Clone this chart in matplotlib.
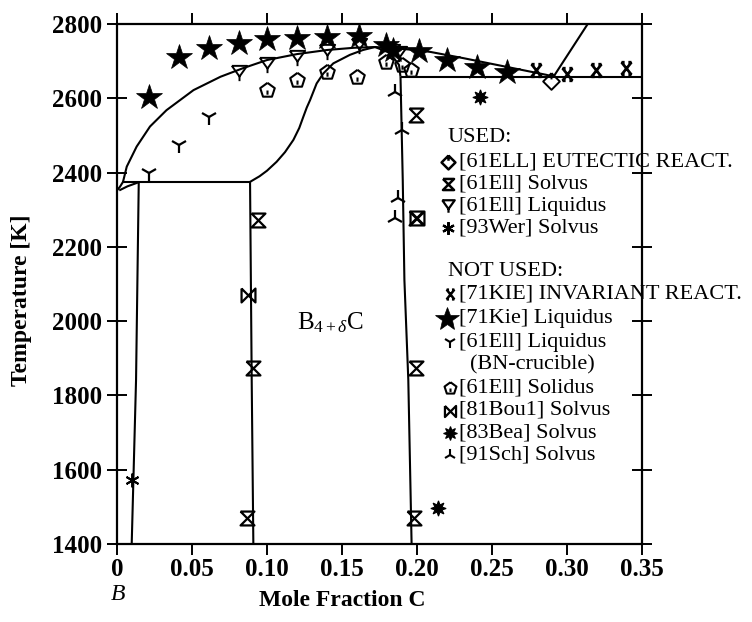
import matplotlib
matplotlib.use("Agg")
import matplotlib.pyplot as plt
import numpy as np
from matplotlib.path import Path

# ---------------- data ----------------
# phase boundaries (mole fraction C, temperature K)
liq_x = [0.000, 0.002, 0.004, 0.0065, 0.0131, 0.022, 0.033, 0.051, 0.069, 0.084, 0.100,
         0.120, 0.140, 0.158, 0.172, 0.185, 0.198, 0.2087, 0.231, 0.2531, 0.2753, 0.2864, 0.291]
liq_T = [2352, 2362, 2375, 2416, 2470, 2524, 2568, 2622, 2658, 2681, 2703,
         2719, 2730, 2736, 2738, 2735, 2730, 2725, 2708, 2690, 2672, 2663, 2658]
gr_liq_x = [0.291, 0.3138]
gr_liq_T = [2658, 2800]
sol_b4c_x = [0.0887, 0.095, 0.100, 0.1064, 0.112, 0.1176, 0.1215, 0.1242, 0.1265, 0.1287,
             0.1331, 0.1376, 0.1442, 0.1553, 0.164, 0.172, 0.182, 0.188, 0.189]
sol_b4c_T = [2375, 2390, 2405, 2429, 2455, 2488, 2520, 2550, 2575, 2595,
             2640, 2667, 2694, 2717, 2730, 2738, 2722, 2690, 2658]
solv_c_x = [0.189, 0.1905, 0.1916, 0.1942, 0.1964]
solv_c_T = [2658, 2380, 2111, 1842, 1400]
solv_b4c_x = [0.0887, 0.0898, 0.0909]
solv_b4c_T = [2375, 1842, 1400]
solv_b_x = [0.0145, 0.0127, 0.0098]
solv_b_T = [2374, 1842, 1400]
sol_b_x = [0.0015, 0.007, 0.0145]
sol_b_T = [2352, 2363, 2374]
peri_x = [0.003, 0.0887]
peri_T = [2375, 2375]
eut_x = [0.189, 0.35]
eut_T = [2658, 2658]

# experimental points
ell_eut_x = [0.289]
ell_eut_T = [2647]
ell_solv_x = [0.094, 0.0905, 0.0865, 0.199, 0.199, 0.199, 0.198]
ell_solv_T = [2272, 1873, 1469, 2555, 2277, 1873, 1469]
ell_liq_x = [0.081, 0.100, 0.120, 0.140, 0.161, 0.183, 0.188]
ell_liq_T = [2667, 2690, 2708, 2725, 2740, 2725, 2718]
wer_x = [0.0098]
wer_T = [1572]
kie_inv_x = [0.279, 0.300, 0.319, 0.339]
kie_inv_T = [2676, 2665, 2676, 2681]
kie_liq_x = [0.021, 0.041, 0.061, 0.081, 0.100, 0.120, 0.140, 0.161, 0.179, 0.184,
             0.201, 0.220, 0.240, 0.260]
kie_liq_T = [2604, 2712, 2735, 2748, 2759, 2761, 2766, 2768, 2743, 2730,
             2728, 2703, 2685, 2672]
ell_bn_x = [0.021, 0.041, 0.061]
ell_bn_T = [2398, 2474, 2550]
ell_sol_x = [0.100, 0.120, 0.140, 0.160, 0.179, 0.190, 0.196]
ell_sol_T = [2622, 2649, 2672, 2658, 2699, 2690, 2676]
bou_x = [0.0875, 0.200]
bou_T = [2070, 2277]
bea_x = [0.242, 0.2142]
bea_T = [2604, 1496]
sch_x = [0.185, 0.190, 0.1876, 0.1853]
sch_T = [2618, 2515, 2331, 2277]

xticks = [0, 0.05, 0.10, 0.15, 0.20, 0.25, 0.30, 0.35]
xticklabels = ["0", "0.05", "0.10", "0.15", "0.20", "0.25", "0.30", "0.35"]
yticks = [1400, 1600, 1800, 2000, 2200, 2400, 2600, 2800]

# ---------------- custom markers ----------------
M, L = Path.MOVETO, Path.LINETO
hourglass = Path([(-1, 1), (1, 1), (-1, -1), (1, -1), (-1, 1)], [M, L, L, L, L])
bowtie = Path([(-1, 1), (-1, -1), (1, 1), (1, -1), (-1, 1)], [M, L, L, L, L])
diamond_t = Path([(0, 1), (1, 0), (0, -1), (-1, 0), (0, 1), (0, 1), (0, 0.25)],
                 [M, L, L, L, L, M, L])
tri_stem = Path([(-1, 1), (1, 1), (0, -0.4), (-1, 1), (0, -0.4), (0, -1)],
                [M, L, L, L, M, L])
inv_mk = Path([(-0.8, 1), (0.8, -1), (0.8, 1), (-0.8, -1),
               (-0.8, 1), (-0.3, 1), (0.3, 1), (0.8, 1),
               (-0.8, -1), (-0.3, -1), (0.3, -1), (0.8, -1)],
              [M, L, M, L, M, L, M, L, M, L, M, L])
ang = np.pi / 2 + np.arange(6) * 2 * np.pi / 5
pv = [(np.cos(a), np.sin(a)) for a in ang]
pent = Path(pv + [(0, -0.55), (0, 0.0)], [M, L, L, L, L, L, M, L])

# ---------------- figure ----------------
plt.rcParams['font.family'] = ['Liberation Serif', 'DejaVu Serif']
plt.rcParams['mathtext.fontset'] = 'custom'
plt.rcParams['mathtext.rm'] = 'Liberation Serif'
plt.rcParams['mathtext.it'] = 'Liberation Serif:italic'
fig = plt.figure(figsize=(7.52, 6.22), dpi=100)
ax = fig.add_axes([117 / 752, 1 - 544 / 622, 525 / 752, 520 / 622])

lw = 1.5
for xs, ts in [(liq_x, liq_T), (gr_liq_x, gr_liq_T), (sol_b4c_x, sol_b4c_T),
               (solv_c_x, solv_c_T), (solv_b4c_x, solv_b4c_T), (solv_b_x, solv_b_T),
               (sol_b_x, sol_b_T), (peri_x, peri_T), (eut_x, eut_T)]:
    ax.plot(xs, ts, color='black', lw=lw, solid_capstyle='butt', zorder=2)

def pts(xs, ts, marker, ms, filled=False, mew=1.4):
    ax.plot(xs, ts, linestyle='none', marker=marker, ms=ms, mew=mew,
            mec='black', mfc='black' if filled else 'none', zorder=3, clip_on=False)

pts(ell_eut_x, ell_eut_T, diamond_t, 12)
pts(ell_solv_x, ell_solv_T, hourglass, 10, mew=1.6)
pts(ell_liq_x, ell_liq_T, tri_stem, 11)
pts(wer_x, wer_T, (6, 2, 0), 10)
pts(kie_inv_x, kie_inv_T, inv_mk, 9, mew=2)
pts(kie_liq_x, kie_liq_T, '*', 19, filled=True, mew=0.5)
pts(ell_bn_x, ell_bn_T, '1', 12, mew=1.6)
pts(ell_sol_x, ell_sol_T, pent, 11, mew=1.5)
pts(bou_x, bou_T, bowtie, 10, mew=1.6)
pts(bea_x, bea_T, (8, 1, 0), 11, filled=True, mew=0.8)
pts(sch_x, sch_T, '2', 12, mew=1.6)

ax.set_xlim(0, 0.35)
ax.set_ylim(1400, 2800)
ax.set_xticks(xticks)
ax.set_xticklabels(xticklabels)
ax.set_yticks(yticks)
for s in ax.spines.values():
    s.set_linewidth(1.6)
ax.tick_params(axis='y', which='both', left=True, right=True, direction='out',
               length=8, width=1.4, labelsize=18, pad=4)
ax.tick_params(axis='y', which='both', left=True, direction='inout', length=14)
ax.tick_params(axis='x', which='both', bottom=True, top=True, direction='out',
               length=8, width=1.4, labelsize=18, pad=2)
for lab in ax.get_xticklabels() + ax.get_yticklabels():
    lab.set_fontweight('bold')

fig.text(342 / 752, 1 - 600 / 622, "Mole Fraction C", ha='center', va='center',
         fontsize=17, fontweight='bold')
fig.text(22 / 752, 1 - 300 / 622, "Temperature [K]", ha='center', va='center',
         rotation=90, fontsize=17, fontweight='bold')
fig.text(118 / 752, 1 - 594 / 622, "B", ha='center', va='center', fontsize=17,
         style='italic')

ax.text(0.142, 1995, r"B$_{4+\delta}$C", ha='center', va='center', fontsize=18)

# ---------------- legend (drawn by hand) ----------------
def axp(px, py):
    return (px - 117) / 525, (544 - py) / 520

fs = 16
def header(px, py, s):
    x, y = axp(px, py)
    ax.text(x, y, s, transform=ax.transAxes, ha='left', va='center', fontsize=fs)

def entry(mpx, tpx, py, s, marker, ms, filled=False, mew=1.4):
    x, y = axp(mpx, py)
    ax.plot([x], [y], transform=ax.transAxes, linestyle='none', marker=marker, ms=ms,
            mew=mew, mec='black', mfc='black' if filled else 'none', clip_on=False)
    x, y = axp(tpx, py)
    ax.text(x, y, s, transform=ax.transAxes, ha='left', va='center', fontsize=fs)

header(448, 138, "USED:")
entry(448, 459, 161.5, "[61ELL] EUTECTIC REACT.", diamond_t, 10, mew=1.8)
entry(448, 459, 183.5, "[61Ell] Solvus", hourglass, 8, mew=1.8)
entry(448, 459, 206, "[61Ell] Liquidus", tri_stem, 9, mew=1.6)
entry(448, 459, 228, "[93Wer] Solvus", (6, 2, 0), 9, mew=1.6)
header(448, 272, "NOT USED:")
entry(450, 459, 294, "[71KIE] INVARIANT REACT.", inv_mk, 7, mew=1.8)
entry(447, 459, 319, "[71Kie] Liquidus", '*', 18, filled=True, mew=0.5)
entry(450, 459, 342, "[61Ell] Liquidus", '1', 9, mew=1.5)
header(470, 365, "(BN-crucible)")
entry(450, 459, 388, "[61Ell] Solidus", pent, 9, mew=1.5)
entry(450, 459, 410.5, "[81Bou1] Solvus", bowtie, 8, mew=1.6)
entry(450, 459, 433, "[83Bea] Solvus", (8, 1, 0), 10, filled=True, mew=0.8)
entry(450, 459, 455, "[91Sch] Solvus", '2', 9, mew=1.5)

fig.savefig("out.png", dpi=100)
